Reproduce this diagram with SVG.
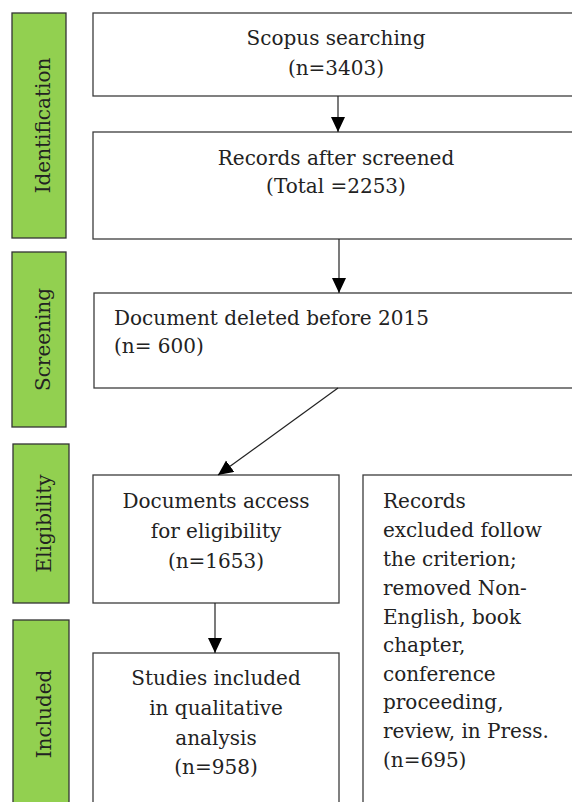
<svg xmlns="http://www.w3.org/2000/svg" width="572" height="802" viewBox="0 0 572 802">
<style>
.stage{fill:#92D050;stroke:#333;stroke-width:1.3}
.box{fill:#fff;stroke:#3c3c3c;stroke-width:1.3}
text{font-family:"DejaVu Serif","Liberation Serif",serif;font-size:20px;fill:#222}
.c{text-anchor:middle}
.conn{stroke:#222;stroke-width:1.2;fill:none}
</style>
<defs>
<marker id="ah" markerUnits="userSpaceOnUse" markerWidth="16" markerHeight="15" refX="15" refY="7" orient="auto">
<path d="M0,0 L15,7 L0,14 z" fill="#000"/>
</marker>
</defs>
<g id="stage-identification"><rect class="stage" x="12" y="13" width="54" height="225"/><text class="c" transform="translate(50,125.5) rotate(-90)">Identification</text></g>
<g id="stage-screening"><rect class="stage" x="12" y="252" width="54" height="175"/><text class="c" transform="translate(50,339.5) rotate(-90)">Screening</text></g>
<g id="stage-eligibility"><rect class="stage" x="13" y="444" width="56" height="159"/><text class="c" transform="translate(51,523.5) rotate(-90)">Eligibility</text></g>
<g id="stage-included"><rect class="stage" x="13" y="620" width="56" height="200"/><text class="c" transform="translate(51,714) rotate(-90)">Included</text></g>
<g id="n-scopus"><rect class="box" x="93" y="13" width="500" height="83"/><text class="c" x="336" y="45">Scopus searching</text><text class="c" x="336" y="75">(n=3403)</text></g>
<g id="n-records"><rect class="box" x="93" y="132" width="500" height="107"/><text class="c" x="336" y="165">Records after screened</text><text class="c" x="336" y="193">(Total =2253)</text></g>
<g id="n-deleted"><rect class="box" x="94" y="293" width="500" height="95"/><text x="114" y="325">Document deleted before 2015</text><text x="114" y="353">(n= 600)</text></g>
<g id="n-access"><rect class="box" x="93" y="475" width="246" height="128"/><text class="c" x="216" y="508">Documents access</text><text class="c" x="216" y="538">for eligibility</text><text class="c" x="216" y="568">(n=1653)</text></g>
<g id="n-included"><rect class="box" x="93" y="653" width="246" height="170"/><text class="c" x="216" y="685">Studies included</text><text class="c" x="216" y="715">in qualitative</text><text class="c" x="216" y="745">analysis</text><text class="c" x="216" y="774">(n=958)</text></g>
<g id="n-excluded"><rect class="box" x="363" y="475" width="240" height="350"/>
<text x="383" y="508">Records</text><text x="383" y="537">excluded follow</text><text x="383" y="566">the criterion;</text><text x="383" y="595">removed Non-</text><text x="383" y="624">English, book</text><text x="383" y="652">chapter,</text><text x="383" y="681">conference</text><text x="383" y="709">proceeding,</text><text x="383" y="738">review, in Press.</text><text x="383" y="767">(n=695)</text></g>
<g id="connectors">
<line class="conn" x1="338" y1="96" x2="338" y2="132" marker-end="url(#ah)"/>
<line class="conn" x1="339" y1="239" x2="339" y2="293" marker-end="url(#ah)"/>
<line class="conn" x1="338" y1="388" x2="218" y2="475" marker-end="url(#ah)"/>
<line class="conn" x1="215" y1="603" x2="215" y2="653" marker-end="url(#ah)"/>
</g>
</svg>
